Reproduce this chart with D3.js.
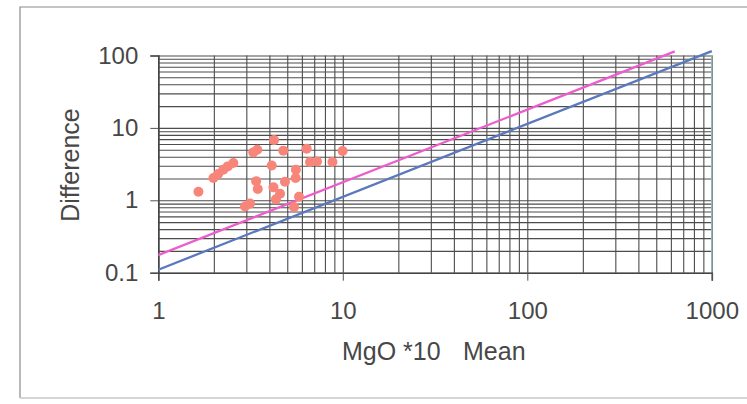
<!DOCTYPE html>
<html><head><meta charset="utf-8">
<script src="https://cdn.jsdelivr.net/npm/d3@7"></script>
<style>
html,body{margin:0;padding:0;background:#fff;}
svg{display:block;}
text{font-family:"Liberation Sans",Arial,sans-serif;fill:#474747;}
</style></head><body>
<svg id="c" width="747" height="404"></svg>
<script>
// Data
const meanValues = [1.65,1.99,2.11,2.25,2.38,2.55,3.27,3.44,4.24,4.76,6.37,9.98,6.64,7.25,8.79,4.12,5.57,5.55,3.39,3.46,4.86,4.21,4.57,4.34,5.79,5.44,2.95,3.14];
const diffValues = [1.31,2.03,2.31,2.64,2.94,3.27,4.59,5.00,6.78,4.85,5.17,4.80,3.38,3.44,3.38,3.03,2.64,2.03,1.84,1.43,1.80,1.51,1.23,1.03,1.12,0.81,0.82,0.90];
const pinkLineX = [1, 630];
const pinkLineY = [0.175, 114];
const blueLineX = [1, 1000];
const blueLineY = [0.11, 115];
const xTickValues = [1, 10, 100, 1000];
const xTickLabels = ["1", "10", "100", "1000"];
const yTickValues = [0.1, 1, 10, 100];
const yTickLabels = ["0.1", "1", "10", "100"];
const xTitleParts = ["MgO *10", "Mean"];
const yTitle = "Difference";

const svg = d3.select("#c");
svg.append("rect").attr("width",747).attr("height",404).attr("fill","#fff");

// outer chart frame
svg.append("path").attr("d","M20,398 L20,7 L747,7").attr("fill","none").attr("stroke","#8a8a8a").attr("stroke-width",1.2);
svg.append("line").attr("x1",20).attr("x2",747).attr("y1",398).attr("y2",398).attr("stroke","#c8c8c8").attr("stroke-width",1.5);

const L = 158.3, R = 711.8, T = 55.5, B = 272.7;
const x = d3.scaleLog().domain([1,1000]).range([L,R]);
const y = d3.scaleLog().domain([0.1,100]).range([B,T]);

// gridlines
const gx = svg.append("g").attr("transform",`translate(0,${B})`)
  .call(d3.axisBottom(x).tickValues(x.ticks()).tickSize(-(B-T)).tickFormat(""));
gx.select(".domain").remove();
gx.selectAll("line").attr("stroke","#4c4c4c").attr("stroke-width",1.1);

const gy = svg.append("g").attr("transform",`translate(${L},0)`)
  .call(d3.axisLeft(y).tickValues(y.ticks()).tickSize(-(R-L)).tickFormat(""));
gy.select(".domain").remove();
gy.selectAll("line").attr("stroke","#4c4c4c").attr("stroke-width",1.1);

// right plot border
svg.append("line").attr("x1",R).attr("x2",R).attr("y1",T).attr("y2",B).attr("stroke","#8fb8b4").attr("stroke-width",1.5);

// axes
const ax = svg.append("g").attr("transform",`translate(0,${B})`)
  .call(d3.axisBottom(x).tickValues(xTickValues).tickSize(8).tickPadding(21)
    .tickFormat((d,i)=>xTickLabels[i]));
ax.select(".domain").attr("stroke","#444").attr("stroke-width",1.6);
ax.selectAll("line").attr("stroke","#555");
ax.selectAll("text").style("font-size","24px").attr("fill","#474747");

const ay = svg.append("g").attr("transform",`translate(${L},0)`)
  .call(d3.axisLeft(y).tickValues(yTickValues).tickSize(8).tickPadding(12)
    .tickFormat((d,i)=>yTickLabels[i]));
ay.select(".domain").attr("stroke","#444").attr("stroke-width",1.6);
ay.selectAll("line").attr("stroke","#555");
ay.selectAll("text").style("font-size","24px").attr("fill","#474747");

// reference lines
const line = d3.line().x(d=>x(d[0])).y(d=>y(d[1]));
svg.append("path").datum(pinkLineX.map((v,i)=>[v,pinkLineY[i]]))
  .attr("d",line).attr("fill","none").attr("stroke","#ee5ccc").attr("stroke-width",2.3);
svg.append("path").datum(blueLineX.map((v,i)=>[v,blueLineY[i]]))
  .attr("d",line).attr("fill","none").attr("stroke","#5a78be").attr("stroke-width",2.3);

// scatter points
svg.append("g").selectAll("circle").data(meanValues.map((v,i)=>[v,diffValues[i]]))
  .join("circle").attr("cx",d=>x(d[0])).attr("cy",d=>y(d[1])).attr("r",5)
  .attr("fill","#f8857a");

// titles
svg.append("text").attr("x",342).attr("y",360).style("font-size","25px").text(xTitleParts[0]);
svg.append("text").attr("x",463).attr("y",360).style("font-size","25px").text(xTitleParts[1]);
svg.append("text").attr("transform","translate(79,165) rotate(-90)").attr("text-anchor","middle")
  .style("font-size","25px").text(yTitle);
</script>
</body></html>
